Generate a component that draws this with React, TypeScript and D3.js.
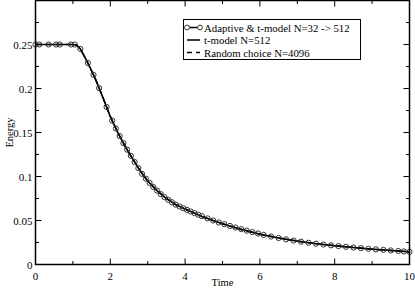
import * as d3 from "d3"

const W = 415
const H = 289

// adaptive & t-model run (markers)
const adaptiveTime = [
  0, 0.1, 0.35, 0.55, 0.65, 0.95, 1.05, 1.2, 1.4, 1.55, 1.7, 1.9, 2.05, 2.15, 2.25, 2.35, 2.45,
  2.55, 2.65, 2.75, 2.85, 2.95, 3.05, 3.15, 3.25, 3.35, 3.45, 3.55, 3.65, 3.75, 3.85, 3.95,
  4.05, 4.15, 4.25, 4.35, 4.45, 4.6, 4.75, 4.9, 5.05, 5.2, 5.35, 5.5, 5.65, 5.8, 5.95, 6.1,
  6.3, 6.5, 6.7, 6.9, 7.1, 7.3, 7.5, 7.7, 7.9, 8.1, 8.3, 8.5, 8.7, 8.9, 9.1, 9.3, 9.5, 9.7,
  9.85, 10,
]
const adaptiveEnergy = [
  0.25, 0.25, 0.25, 0.25, 0.25, 0.25, 0.25, 0.245, 0.229, 0.2155, 0.2005, 0.179, 0.1635, 0.1545,
  0.146, 0.138, 0.1305, 0.1235, 0.1165, 0.1095, 0.103, 0.0975, 0.0927, 0.088, 0.084, 0.08,
  0.0765, 0.0735, 0.0707, 0.068, 0.066, 0.064, 0.0621, 0.0602, 0.0584, 0.0566, 0.0549, 0.0524,
  0.05, 0.0478, 0.0458, 0.0438, 0.042, 0.0402, 0.0385, 0.0368, 0.0352, 0.0336, 0.0318, 0.0301,
  0.0286, 0.0272, 0.0259, 0.0247, 0.0237, 0.0227, 0.0218, 0.0209, 0.0201, 0.0193, 0.0186,
  0.0179, 0.0172, 0.0166, 0.016, 0.0154, 0.0149, 0.0144,
]

// t-model N=512
const tmodelTime = [0, 0.5, 1.0, 1.1, 1.2, 1.4, 1.6, 1.8, 2.0, 2.2, 2.4, 2.6, 2.8, 3.0, 3.25, 3.5, 3.75, 4.0, 4.5, 5.0, 5.5, 6.0, 6.5, 7.0, 7.5, 8.0, 8.5, 9.0, 9.5, 10]
const tmodelEnergy = [0.25, 0.25, 0.25, 0.2495, 0.245, 0.229, 0.211, 0.19, 0.168, 0.15, 0.134, 0.12, 0.1065, 0.095, 0.084, 0.075, 0.068, 0.063, 0.0536, 0.0462, 0.0398, 0.0344, 0.0302, 0.0266, 0.0237, 0.0213, 0.0193, 0.0174, 0.0158, 0.0144]

// random choice N=4096
const randomTime = [0, 0.5, 1.0, 1.1, 1.2, 1.4, 1.6, 1.8, 2.0, 2.2, 2.4, 2.6, 2.8, 3.0, 3.25, 3.5, 3.75, 4.0, 4.5, 5.0, 5.5, 6.0, 6.5, 7.0, 7.5, 8.0, 8.5, 9.0, 9.5, 10]
const randomEnergy = [0.25, 0.25, 0.25, 0.2495, 0.245, 0.229, 0.211, 0.19, 0.168, 0.15, 0.134, 0.12, 0.1065, 0.095, 0.084, 0.075, 0.068, 0.063, 0.0536, 0.0462, 0.0398, 0.0344, 0.0302, 0.0266, 0.0237, 0.0213, 0.0193, 0.0174, 0.0158, 0.0144]

const xMajor = [0, 2, 4, 6, 8, 10]
const xMinor = [1, 3, 5, 7, 9]
const yMajor = [0, 0.05, 0.1, 0.15, 0.2, 0.25]
const yMinor = [0.025, 0.075, 0.125, 0.175, 0.225, 0.275]
const yLabels = ["0", "0.05", "0.1", "0.15", "0.2", "0.25"]

const legendLabels = ["Adaptive & t-model N=32 -> 512", "t-model N=512", "Random choice N=4096"]

const left = 35.5
const right = 409.5
const top = 0.5
const bottom = 264.5
const font = "Liberation Serif, Times New Roman, Times, serif"

export default function App() {
  const x = d3.scaleLinear().domain([0, 10]).range([left, right])
  const y = d3.scaleLinear().domain([0, 0.3]).range([bottom, top])

  const path = (ts: number[], es: number[]) =>
    d3
      .line<number>()
      .x((t) => x(t))
      .y((_, i) => y(es[i]))(ts) || ""

  const major = 6
  const minor = 3.5

  return (
    <svg
      width={W}
      height={H}
      style={{ position: "absolute", left: 0, top: 0, background: "#fff" }}
    >
      {/* data */}
      <path d={path(randomTime, randomEnergy)} fill="none" stroke="#000" strokeWidth={1.5} strokeDasharray="6,4" />
      <path d={path(tmodelTime, tmodelEnergy)} fill="none" stroke="#000" strokeWidth={1.5} />
      <path d={path(adaptiveTime, adaptiveEnergy)} fill="none" stroke="#000" strokeWidth={1.2} />
      {adaptiveTime.map((t, i) => (
        <circle key={i} cx={x(t)} cy={y(adaptiveEnergy[i])} r={2.6} fill="none" stroke="#333" strokeWidth={1} />
      ))}

      {/* frame */}
      <rect x={left} y={top} width={right - left} height={bottom - top} fill="none" stroke="#000" strokeWidth={1.5} />

      {/* ticks */}
      {xMajor.map((t) => (
        <g key={"xM" + t}>
          <line x1={x(t)} x2={x(t)} y1={bottom} y2={bottom - major} stroke="#000" />
          <line x1={x(t)} x2={x(t)} y1={top} y2={top + major} stroke="#000" />
          <text x={x(t)} y={bottom + 15} textAnchor="middle" fontFamily={font} fontSize={11}>
            {t}
          </text>
        </g>
      ))}
      {xMinor.map((t) => (
        <g key={"xm" + t}>
          <line x1={x(t)} x2={x(t)} y1={bottom} y2={bottom - minor} stroke="#000" />
          <line x1={x(t)} x2={x(t)} y1={top} y2={top + minor} stroke="#000" />
        </g>
      ))}
      {yMajor.map((v, i) => (
        <g key={"yM" + v}>
          <line x1={left} x2={left + major} y1={y(v)} y2={y(v)} stroke="#000" />
          <line x1={right} x2={right - major} y1={y(v)} y2={y(v)} stroke="#000" />
          <text x={left - 3} y={y(v) + 4} textAnchor="end" fontFamily={font} fontSize={11}>
            {yLabels[i]}
          </text>
        </g>
      ))}
      {yMinor.map((v) => (
        <g key={"ym" + v}>
          <line x1={left} x2={left + minor} y1={y(v)} y2={y(v)} stroke="#000" />
          <line x1={right} x2={right - minor} y1={y(v)} y2={y(v)} stroke="#000" />
        </g>
      ))}

      {/* axis titles */}
      <text x={(left + right) / 2} y={286} textAnchor="middle" fontFamily={font} fontSize={10.5}>
        Time
      </text>
      <text
        transform={`translate(13,${(top + bottom) / 2}) rotate(-90)`}
        textAnchor="middle"
        fontFamily={font}
        fontSize={10.5}
      >
        Energy
      </text>

      {/* legend */}
      <g>
        <rect x={183.5} y={19.5} width={177} height={40} fill="#fff" stroke="#000" strokeWidth={1} />
        {legendLabels.map((label, i) => {
          const ly = 27.5 + i * 12.5
          return (
            <g key={label}>
              <line
                x1={187}
                x2={200}
                y1={ly}
                y2={ly}
                stroke="#000"
                strokeWidth={1.5}
                strokeDasharray={i === 2 ? "5,4" : undefined}
              />
              {i === 0 && (
                <>
                  <circle cx={187} cy={ly} r={2.4} fill="#fff" stroke="#333" />
                  <circle cx={200} cy={ly} r={2.4} fill="#fff" stroke="#333" />
                </>
              )}
              <text x={204} y={ly + 4} fontFamily={font} fontSize={10.8}>
                {label}
              </text>
            </g>
          )
        })}
      </g>
    </svg>
  )
}
